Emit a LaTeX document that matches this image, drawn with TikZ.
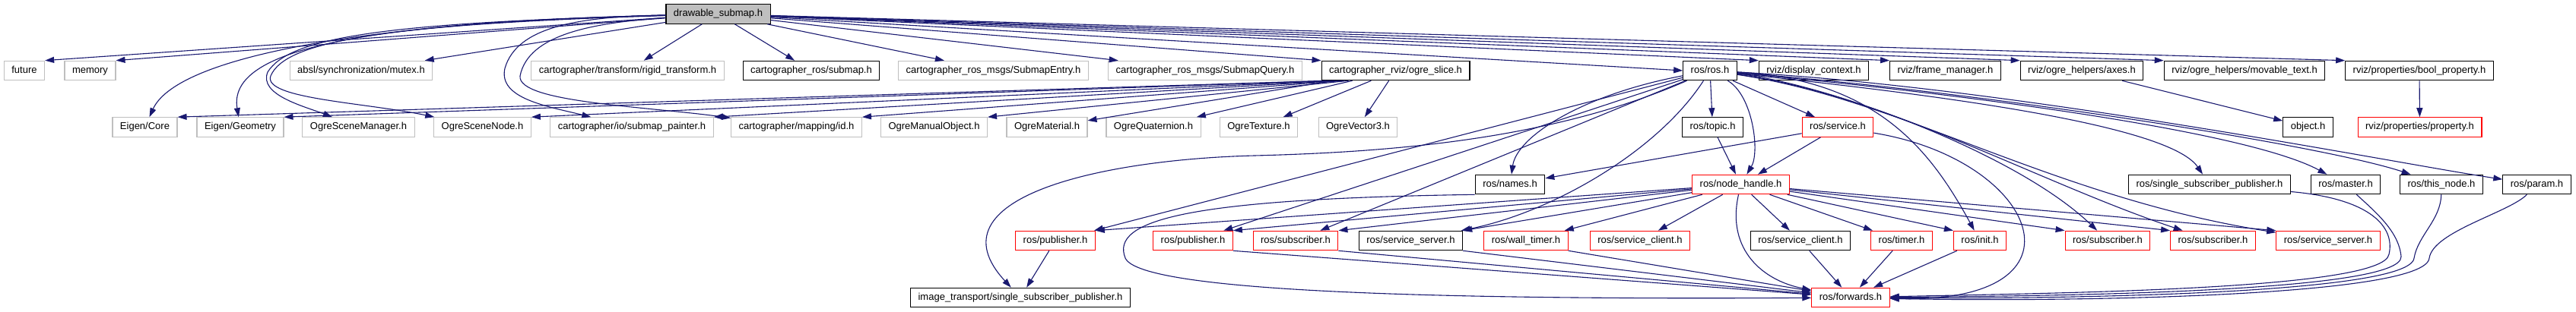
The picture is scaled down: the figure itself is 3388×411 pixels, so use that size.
\documentclass[tikz,border=0pt]{standalone}
\usepackage{fontspec}
\setmainfont{Liberation Sans}
\usetikzlibrary{arrows.meta}
\definecolor{edgeblue}{HTML}{191970}
\definecolor{boxgrey}{HTML}{BFBFBF}
\definecolor{boxred}{HTML}{FF0000}

\tikzset{
  file/.style={draw=black, rectangle, line width=1.1pt, inner xsep=10pt, inner ysep=0pt,
    minimum height=25.5pt, text height=9.5pt, text depth=2.7pt, font=\fontsize{13}{15}\selectfont},
  sysfile/.style={file, draw=boxgrey},
  redfile/.style={file, draw=boxred},
  dep/.style={draw=edgeblue, line width=1.1pt, -{Triangle[length=12pt,width=8pt]}},
}

\begin{document}
\begin{tikzpicture}[x=1pt, y=-1pt]
  \useasboundingbox (0,0) rectangle (3388,411);
  % row 1
  \node [file, fill=boxgrey] (dsub) at (944.5,18.5) {drawable\_submap.h};
  % row 2
  \node [sysfile] (future) at (32,93) {future};
  \node [sysfile] (memory) at (118.5,93) {memory};
  \node [sysfile] (mutex) at (475,93) {absl/synchronization/mutex.h};
  \node [sysfile] (rigid) at (825.5,93) {cartographer/transform/rigid\_transform.h};
  \node [file] (crsubmap) at (1067,93) {cartographer\_ros/submap.h};
  \node [sysfile] (entry) at (1306.5,93) {cartographer\_ros\_msgs/SubmapEntry.h};
  \node [sysfile] (query) at (1585,93) {cartographer\_ros\_msgs/SubmapQuery.h};
  \node [file] (slice) at (1835.5,93) {cartographer\_rviz/ogre\_slice.h};
  \node [file] (ros) at (2249,93) {ros/ros.h};
  \node [file] (dctx) at (2385.5,93) {rviz/display\_context.h};
  \node [file] (fman) at (2558.5,93) {rviz/frame\_manager.h};
  \node [file] (axes) at (2738,93) {rviz/ogre\_helpers/axes.h};
  \node [file] (mtext) at (2952,93) {rviz/ogre\_helpers/movable\_text.h};
  \node [file] (bprop) at (3182,93) {rviz/properties/bool\_property.h};
  % row 3
  \node [sysfile] (ecore) at (190.5,167.5) {Eigen/Core};
  \node [sysfile] (egeom) at (316,167.5) {Eigen/Geometry};
  \node [sysfile] (smgr) at (471.5,167.5) {OgreSceneManager.h};
  \node [sysfile] (snode) at (634.5,167.5) {OgreSceneNode.h};
  \node [sysfile] (painter) at (831,167.5) {cartographer/io/submap\_painter.h};
  \node [sysfile] (mapid) at (1047.5,167.5) {cartographer/mapping/id.h};
  \node [sysfile] (manual) at (1228.5,167.5) {OgreManualObject.h};
  \node [sysfile] (material) at (1377,167.5) {OgreMaterial.h};
  \node [sysfile] (quat) at (1517,167.5) {OgreQuaternion.h};
  \node [sysfile] (texture) at (1655.5,167.5) {OgreTexture.h};
  \node [sysfile] (vec3) at (1786,167.5) {OgreVector3.h};
  \node [file] (topic) at (2252.5,167.5) {ros/topic.h};
  \node [redfile] (service) at (2417,167.5) {ros/service.h};
  \node [file] (object) at (3035.5,167.5) {object.h};
  \node [redfile] (prop) at (3182.5,167.5) {rviz/properties/property.h};
  % row 4
  \node [file] (names) at (1986,243) {ros/names.h};
  \node [redfile] (nh) at (2289.5,243) {ros/node\_handle.h};
  \node [file] (sspub) at (2906,243) {ros/single\_subscriber\_publisher.h};
  \node [file] (master) at (3085,243) {ros/master.h};
  \node [file] (thisnode) at (3211,243) {ros/this\_node.h};
  \node [file] (param) at (3336.5,243) {ros/param.h};
  % row 5
  \node [redfile] (pubA) at (1388,317) {ros/publisher.h};
  \node [redfile] (pubB) at (1569,317) {ros/publisher.h};
  \node [redfile] (subA) at (1704,317) {ros/subscriber.h};
  \node [file] (srvA) at (1855.5,317) {ros/service\_server.h};
  \node [redfile] (wtimer) at (2007,317) {ros/wall\_timer.h};
  \node [redfile] (cliA) at (2157,317) {ros/service\_client.h};
  \node [file] (cliB) at (2368,317) {ros/service\_client.h};
  \node [redfile] (timer) at (2501,317) {ros/timer.h};
  \node [redfile] (init) at (2604,317) {ros/init.h};
  \node [redfile] (subB) at (2772,317) {ros/subscriber.h};
  \node [redfile] (subC) at (2910.5,317) {ros/subscriber.h};
  \node [redfile] (srvB) at (3062,317) {ros/service\_server.h};
  % row 6
  \node [file] (itssp) at (1342,392) {image\_transport/single\_subscriber\_publisher.h};
  \node [redfile] (fwd) at (2434,392) {ros/forwards.h};

  % drawable_submap.h
  \draw [dep] (dsub) -- (future.north east);
  \draw [dep] (dsub) -- (memory.north east);
  \draw [dep] (dsub) -- (mutex);
  \draw [dep] (dsub) -- (rigid);
  \draw [dep] (dsub) -- (crsubmap);
  \draw [dep] (dsub) -- (entry);
  \draw [dep] (dsub) -- (query);
  \draw [dep] (dsub) -- (slice.north west);
  \draw [dep] (dsub) -- (ros.west);
  \draw [dep] (dsub) -- (dctx.north west);
  \draw [dep] (dsub) -- (fman.north west);
  \draw [dep] (dsub) -- (axes.north west);
  \draw [dep] (dsub) -- (mtext.north west);
  \draw [dep] (dsub) -- (bprop.north west);
  \draw [dep] (dsub) .. controls (450,30) and (230,80) .. (ecore);
  \draw [dep] (dsub) .. controls (450,30) and (300,70) .. (egeom);
  \draw [dep] (dsub) .. controls (500,30) and (380,50) .. (352,95) .. controls (340,125) and (400,140) .. (smgr);
  \draw [dep] (dsub) .. controls (500,32) and (375,55) .. (356,100) .. controls (345,130) and (480,135) .. (snode);
  \draw [dep] (dsub) .. controls (760,22) and (680,35) .. (664,90) .. controls (655,130) and (720,140) .. (painter);
  \draw [dep] (dsub) .. controls (780,30) and (695,45) .. (684,100) .. controls (680,135) and (850,140) .. (mapid);

  % ogre_slice.h
  \draw [dep] ([xshift=6pt]slice.south west) -- (ecore.north east);
  \draw [dep] ([xshift=12pt]slice.south west) -- (egeom.north east);
  \draw [dep] ([xshift=18pt]slice.south west) -- (snode.north east);
  \draw [dep] ([xshift=24pt]slice.south west) -- (painter.north east);
  \draw [dep] ([xshift=30pt]slice.south west) -- (mapid.north east);
  \draw [dep] ([xshift=36pt]slice.south west) -- (manual.north east);
  \draw [dep] (slice) -- (material);
  \draw [dep] (slice) -- (quat);
  \draw [dep] (slice) -- (texture);
  \draw [dep] (slice) -- (vec3);

  % rviz
  \draw [dep] (axes) -- (object);
  \draw [dep] (bprop) -- (prop);

  % ros.h
  \draw [dep] (ros) .. controls (2080,125) and (1995,180) .. (names);
  \draw [dep] (ros) -- (topic);
  \draw [dep] (ros) .. controls (2305,125) and (2315,200) .. (nh);
  \draw [dep] (ros) -- (service);
  \draw [dep] (ros) -- (pubA);
  \draw [dep] (ros) .. controls (2050,180) and (1850,200) .. (1650,205) .. controls (1450,210) and (1220,260) .. (itssp);
  \draw [dep] (ros) -- (pubB);
  \draw [dep] (ros) -- (subA);
  \draw [dep] (ros) .. controls (2180,200) and (2040,280) .. (srvA);
  \draw [dep] (ros) .. controls (2470,105) and (2540,200) .. (init);
  \draw [dep] (ros) .. controls (2400,110) and (2650,200) .. (subB);
  \draw [dep] (ros) .. controls (2480,125) and (2680,240) .. (subC);
  \draw [dep] (ros) .. controls (2500,130) and (2700,260) .. (srvB);
  \draw [dep] (ros) .. controls (2500,120) and (2850,160) .. (sspub);
  \draw [dep] (ros) .. controls (2550,120) and (2950,170) .. (master);
  \draw [dep] (ros) .. controls (2600,120) and (3050,190) .. (thisnode);
  \draw [dep] (ros) .. controls (2650,115) and (3150,215) .. (param);

  % topic.h, service.h
  \draw [dep] (topic) -- (nh);
  \draw [dep] (service) -- (nh);
  \draw [dep] (service) -- (names);
  \draw [dep] (service) .. controls (2680,210) and (2760,400) .. (fwd);

  % node_handle.h
  \draw [dep] (nh) -- (pubA.north east);
  \draw [dep] (nh) -- (pubB.north east);
  \draw [dep] (nh) -- (subA.north east);
  \draw [dep] (nh) -- (srvA.north east);
  \draw [dep] (nh) -- (wtimer);
  \draw [dep] (nh) -- (cliA);
  \draw [dep] (nh) -- (cliB);
  \draw [dep] (nh) -- (timer);
  \draw [dep] (nh) -- (init.north west);
  \draw [dep] (nh) -- (subB.north west);
  \draw [dep] (nh) -- (subC.north west);
  \draw [dep] (nh) -- (srvB.north west);
  \draw [dep] (nh) .. controls (2270,330) and (2320,370) .. (fwd);

  % into forwards.h
  \draw [dep] (pubA) -- (itssp);
  \draw [dep] (pubB.south east) -- (fwd);
  \draw [dep] (subA.south east) -- (fwd);
  \draw [dep] (srvA.south east) -- (fwd);
  \draw [dep] (wtimer.south east) -- (fwd);
  \draw [dep] (cliB) -- (fwd);
  \draw [dep] (timer) -- (fwd);
  \draw [dep] (init) -- (fwd);
  \draw [dep] (names.south west) .. controls (1560,262) and (1460,290) .. (1480,340) .. controls (1500,385) and (1900,395) .. (fwd);
  \draw [dep] (sspub) .. controls (3120,262) and (3150,300) .. (3142,335) .. controls (3135,382) and (2700,386) .. (fwd);
  \draw [dep] (master) .. controls (3125,280) and (3155,305) .. (3158,338) .. controls (3160,385) and (2700,390) .. (fwd);
  \draw [dep] (thisnode) .. controls (3210,290) and (3180,310) .. (3175,340) .. controls (3170,388) and (2700,394) .. (fwd);
  \draw [dep] (param) .. controls (3300,280) and (3200,305) .. (3195,340) .. controls (3190,392) and (2700,398) .. (fwd);
\end{tikzpicture}
\end{document}
